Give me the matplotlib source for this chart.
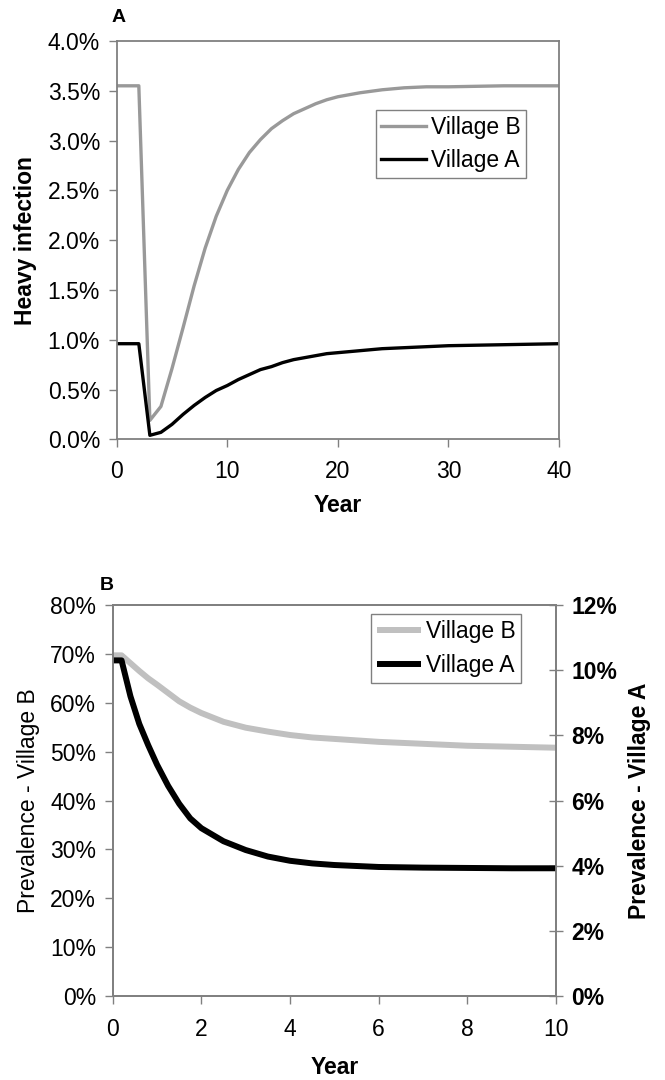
import numpy as np
import matplotlib
matplotlib.use('Agg')
import matplotlib.pyplot as plt
from matplotlib.ticker import FuncFormatter

plt.rcParams['font.family'] = ['Liberation Sans', 'DejaVu Sans']

# panel A: heavy infection (%) by year
year_a = [0, 1, 2, 3, 4, 5, 6, 7, 8, 9, 10, 11, 12, 13, 14, 15, 16, 17, 18, 19,
          20, 22, 24, 26, 28, 30, 35, 40]
heavy_b = [3.55, 3.55, 3.55, 0.19, 0.33, 0.71, 1.12, 1.54, 1.92, 2.24, 2.50, 2.71,
           2.88, 3.01, 3.12, 3.20, 3.27, 3.32, 3.37, 3.41, 3.44, 3.48, 3.51, 3.53,
           3.54, 3.54, 3.55, 3.55]
heavy_a = [0.96, 0.96, 0.96, 0.04, 0.07, 0.15, 0.25, 0.34, 0.42, 0.49, 0.54, 0.60,
           0.65, 0.70, 0.73, 0.77, 0.80, 0.82, 0.84, 0.86, 0.87, 0.89, 0.91, 0.92,
           0.93, 0.94, 0.95, 0.96]

# panel B: prevalence (%) by year
year_p = [0, 0.2, 0.4, 0.6, 0.8, 1.0, 1.25, 1.5, 1.75, 2.0, 2.5, 3.0, 3.5, 4.0,
          4.5, 5.0, 6, 7, 8, 9, 10]
prev_b = [69.7, 69.7, 68.1, 66.5, 65.0, 63.7, 62.0, 60.3, 59.0, 57.9, 56.1, 54.9,
          54.1, 53.4, 52.9, 52.6, 52.0, 51.6, 51.2, 51.0, 50.8]
prev_a = [10.3, 10.3, 9.2, 8.35, 7.7, 7.1, 6.45, 5.9, 5.45, 5.15, 4.75, 4.48,
          4.28, 4.15, 4.07, 4.02, 3.96, 3.94, 3.93, 3.92, 3.92]

W, H = 665, 1080
fig = plt.figure(figsize=(W / 100, H / 100), dpi=100)
frame = '#808080'
fs = 16.5
leg_kw = dict(loc='upper left', bbox_transform=fig.transFigure, fontsize=fs,
              fancybox=False, edgecolor=frame, framealpha=1, handlelength=1.95,
              handletextpad=0.2, borderpad=0.25, labelspacing=0.47,
              borderaxespad=0)


def style_spines(ax):
    for s in ax.spines.values():
        s.set_color(frame)
        s.set_linewidth(1.3)


# ---- panel A
ax1 = fig.add_axes([116.7 / W, 1 - 439.3 / H, (559 - 116.7) / W, (439.3 - 41) / H])
ax1.plot(year_a, heavy_b, color='#999999', lw=2.4, label='Village B')
ax1.plot(year_a, heavy_a, color='black', lw=2.4, label='Village A')
ax1.set_xlim(0, 40)
ax1.set_ylim(0, 4)
ax1.set_xticks([0, 10, 20, 30, 40])
ax1.set_yticks(np.arange(0, 4.01, 0.5))
ax1.yaxis.set_major_formatter(FuncFormatter(lambda v, p: f'{v:.1f}%'))
ax1.tick_params(direction='out', length=6, width=1, color=frame, labelsize=fs, pad=6)
ax1.tick_params(axis='x', pad=9)
style_spines(ax1)
ax1.set_ylabel('Heavy infection', fontsize=fs, fontweight='bold')
ax1.yaxis.set_label_coords(-0.207, 0.5)
ax1.set_xlabel('Year', fontsize=fs, fontweight='bold')
ax1.xaxis.set_label_coords(0.5, -0.165)
ax1.xaxis.label.set_va('center')
ax1.yaxis.label.set_va('center')
leg1 = ax1.legend(bbox_to_anchor=(375.7 / W, 1 - 110 / H), **leg_kw)
leg1.get_frame().set_linewidth(1)
fig.text(112 / W, 1 - 17 / H, 'A', fontsize=14, fontweight='bold', va='center')

# ---- panel B
ax2 = fig.add_axes([112.7 / W, 1 - 996 / H, (556 - 112.7) / W, (996 - 605) / H])
ax3 = ax2.twinx()
ax2.plot(year_p, prev_b, color='#c0c0c0', lw=4.3, label='Village B',
         solid_capstyle='butt')
ax3.plot(year_p, prev_a, color='black', lw=4.3, label='Village A',
         solid_capstyle='butt')
ax2.set_xlim(0, 10)
ax2.set_ylim(0, 80)
ax3.set_ylim(0, 12)
ax2.set_xticks(range(0, 11, 2))
ax2.set_yticks(range(0, 81, 10))
ax3.set_yticks(range(0, 13, 2))
ax2.yaxis.set_major_formatter(FuncFormatter(lambda v, p: f'{v:.0f}%'))
ax3.yaxis.set_major_formatter(FuncFormatter(lambda v, p: f'{v:.0f}%'))
ax2.tick_params(direction='out', length=6, width=1, color=frame, labelsize=fs, pad=6)
ax2.tick_params(axis='x', pad=10)
ax3.tick_params(direction='inout', length=10, width=1, color=frame, labelsize=fs, pad=6)
for t in ax3.get_yticklabels():
    t.set_fontweight('bold')
style_spines(ax2)
style_spines(ax3)
ax2.set_ylabel('Prevalence - Village B', fontsize=fs)
ax2.yaxis.set_label_coords(-0.191, 0.5)
ax2.yaxis.label.set_va('center')
ax3.set_ylabel('Prevalence - Village A', fontsize=fs, fontweight='bold')
ax3.yaxis.set_label_coords(1.189, 0.5)
ax3.yaxis.label.set_va('center')
ax2.set_xlabel('Year', fontsize=fs, fontweight='bold')
ax2.xaxis.set_label_coords(0.5, -0.182)
ax2.xaxis.label.set_va('center')
h2, l2 = ax2.get_legend_handles_labels()
h3, l3 = ax3.get_legend_handles_labels()
leg2 = ax3.legend(h2 + h3, l2 + l3, bbox_to_anchor=(371 / W, 1 - 614.3 / H), **leg_kw)
leg2.get_frame().set_linewidth(1)
fig.text(100 / W, 1 - 585 / H, 'B', fontsize=14, fontweight='bold', va='center')

fig.savefig('out.png', dpi=100, facecolor='white')
